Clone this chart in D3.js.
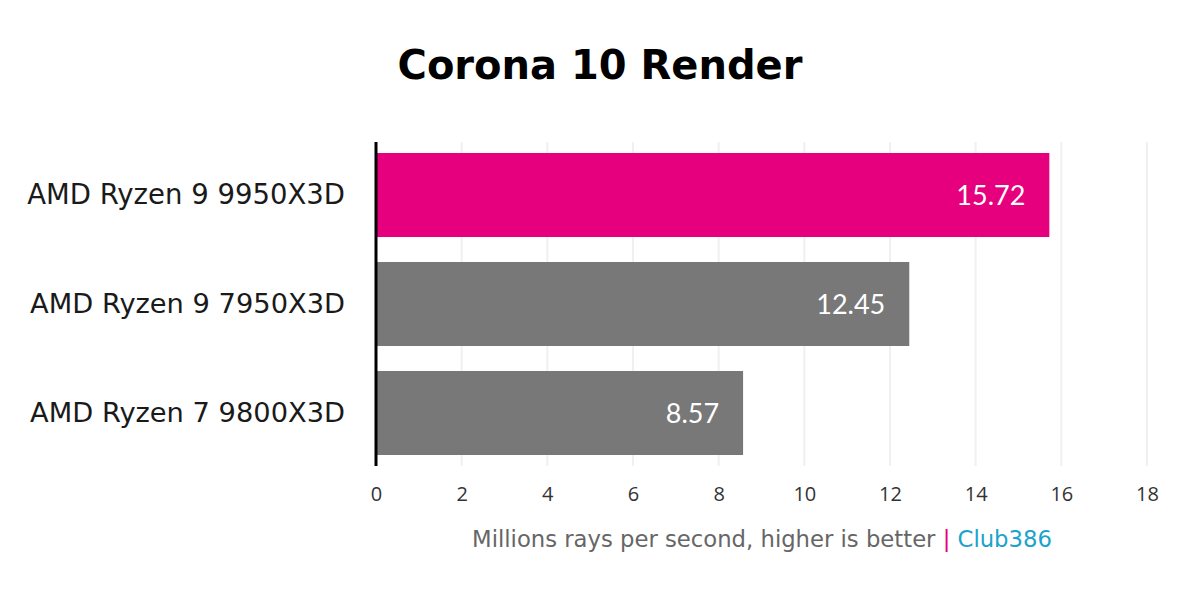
<!DOCTYPE html>
<html><head><meta charset="utf-8">
<script src="https://cdn.jsdelivr.net/npm/d3@7"></script>
<style>body{margin:0;background:#fff}svg{display:block}</style>
</head><body>
<svg id="c" width="1200" height="603"></svg>
<script>
const categories = ["AMD Ryzen 9 9950X3D", "AMD Ryzen 9 7950X3D", "AMD Ryzen 7 9800X3D"];
const values = [15.72, 12.45, 8.57];
const barColors = ["#e6007e", "#787878", "#787878"];
const ticks = [0, 2, 4, 6, 8, 10, 12, 14, 16, 18];
const title = "Corona 10 Render";
const axisTitle = "Millions rays per second, higher is better";
const brand = "Club386";

const svg = d3.select("#c");
const x = d3.scaleLinear().domain([0, 18]).range([376, 1147]);
const y = d3.scaleBand().domain(categories).range([142, 466]).paddingInner(0.2294).paddingOuter(0.101);

function fitWidth(sel, target) {
  const w = sel.node().getComputedTextLength();
  const fs = parseFloat(sel.attr("font-size"));
  sel.attr("font-size", fs * target / w);
}

const tt = svg.append("text").attr("x", 600).attr("y", 79).attr("text-anchor", "middle")
  .attr("font-family", "'DejaVu Sans', sans-serif").attr("font-weight", "bold")
  .attr("font-size", 40).attr("fill", "#000").text(title);
fitWidth(tt, 405);

// gridlines
svg.append("g").selectAll("line").data(ticks.slice(1)).join("line")
  .attr("x1", d => x(d)).attr("x2", d => x(d)).attr("y1", 142).attr("y2", 466)
  .attr("stroke", "#f0f0f0").attr("stroke-width", 2);

// bars
svg.append("g").selectAll("rect").data(values).join("rect")
  .attr("x", x(0)).attr("y", (d, i) => y(categories[i]))
  .attr("width", d => x(d) - x(0)).attr("height", y.bandwidth())
  .attr("fill", (d, i) => barColors[i]);

// value labels
svg.append("g").selectAll("text").data(values).join("text")
  .attr("x", d => x(d) - 24).attr("y", (d, i) => y(categories[i]) + y.bandwidth() / 2 + 10)
  .attr("text-anchor", "end").attr("fill", "#fff")
  .attr("font-family", "Lato, 'Open Sans', sans-serif").attr("font-size", 27)
  .text(d => d.toFixed(2));

// category labels
svg.append("g").selectAll("text").data(categories).join("text")
  .attr("x", 345).attr("y", d => y(d) + y.bandwidth() / 2 + 9)
  .attr("text-anchor", "end").attr("fill", "#1a1a1a")
  .attr("font-family", "'DejaVu Sans', sans-serif").attr("font-size", 24)
  .text(d => d)
  .each(function(d, i) { fitWidth(d3.select(this), i === 0 ? 318 : 315); });

// y axis line
svg.append("line").attr("x1", 376).attr("x2", 376).attr("y1", 142).attr("y2", 466)
  .attr("stroke", "#000").attr("stroke-width", 3);

// x axis tick labels
const xAxis = d3.axisBottom(x).tickValues(ticks).tickSize(0).tickPadding(0).tickFormat(d3.format("d"));
const gx = svg.append("g").attr("transform", "translate(0,487)").call(xAxis);
gx.select(".domain").remove();
gx.selectAll("text").attr("font-family", "'Open Sans', sans-serif").attr("font-size", 20)
  .attr("fill", "#333").attr("dy", "0.71em");

// axis title
const t = svg.append("text").attr("x", 762).attr("y", 547).attr("text-anchor", "middle")
  .attr("font-family", "'DejaVu Sans', sans-serif").attr("font-size", 20);
t.append("tspan").attr("fill", "#666").text(axisTitle + " ");
t.append("tspan").attr("fill", "#e6007e").text("|");
t.append("tspan").attr("fill", "#1aa3cc").text(" " + brand);
fitWidth(t, 580);
</script>
</body></html>
